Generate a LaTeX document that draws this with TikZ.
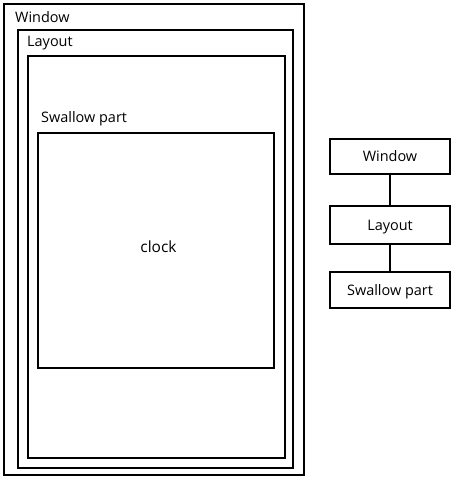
\documentclass[tikz,border=0pt]{standalone}
\usepackage{fontspec}
\setmainfont{Open Sans}
\begin{document}
\begin{tikzpicture}[x=1bp, y=-1bp,
  frame/.style={draw, line width=2bp, inner sep=0, outer sep=0},
  lbl/.style={anchor=base west, inner sep=0, font=\fontsize{14.5}{17}\selectfont},
  treebox/.style={draw, line width=2bp, inner sep=0, minimum width=120bp, minimum height=36bp,
    text height=10.5bp, text depth=0bp, font=\fontsize{14.5}{17}\selectfont},
  link/.style={line width=2bp}]
\useasboundingbox (0,0) rectangle (454,479);
% nested containers on the left
\node[frame, minimum width=300bp, minimum height=471bp] (window) at (154,239.5) {};
\node[frame, minimum width=275bp, minimum height=438bp] (layout) at (155.5,249) {};
\node[frame, minimum width=257bp, minimum height=402bp] (inner) at (156.5,257) {};
\node[frame, minimum width=236bp, minimum height=235bp] (swallow) at (156,250.5) {};
\node[lbl] (windowlbl) at (15,23) {Window};
\node[lbl] (layoutlbl) at (27,47) {Layout};
\node[lbl] (swallowlbl) at (41,123) {Swallow part};
\node[anchor=base, inner sep=0, font=\fontsize{15.5}{18}\selectfont] (clock) at (158.5,252.5) {clock};
% hierarchy tree on the right
\node[treebox, minimum height=35bp] (twin) at (390,156.5) {Window};
\node[treebox, minimum height=38bp] (tlay) at (390,225) {Layout};
\node[treebox] (tswal) at (390,290) {Swallow part};
\draw[link] (twin) -- (tlay);
\draw[link] (tlay) -- (tswal);
\end{tikzpicture}
\end{document}
